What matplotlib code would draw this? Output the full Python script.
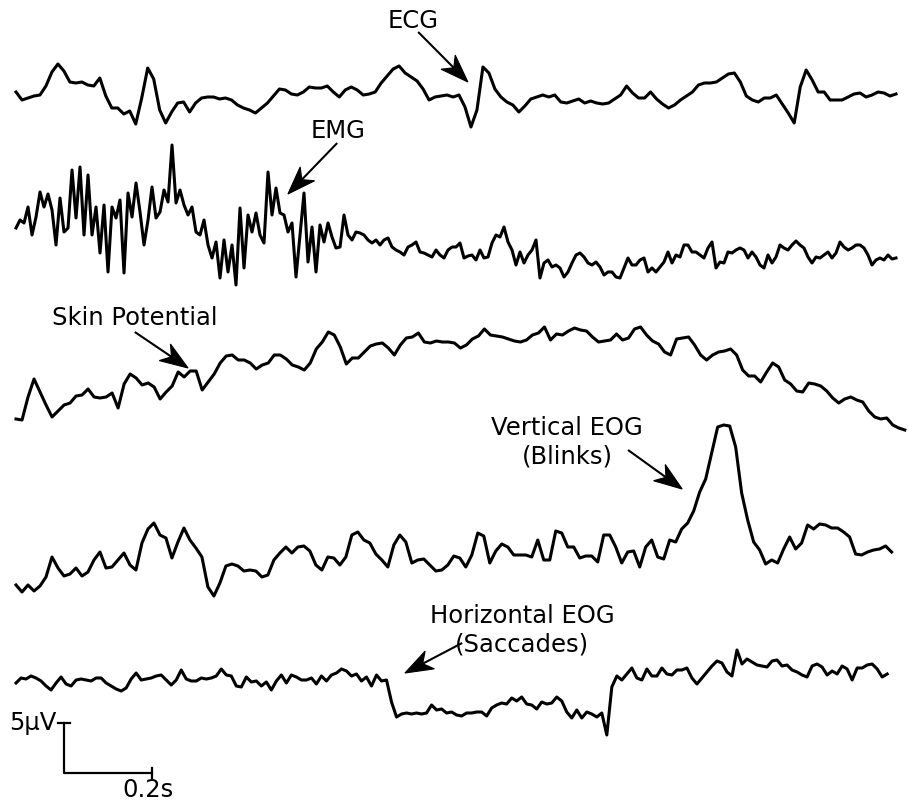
import numpy as np
import matplotlib
matplotlib.use("Agg")
from matplotlib import pyplot as plt
from matplotlib.patches import Polygon
from matplotlib.transforms import IdentityTransform

ecg = [0.5, -0.3, -0.1, 0.1, 0.2, 1.1, 2.5, 3.3, 2.6, 1.5,
       1.4, 1.5, 1.2, 1.1, 1.9, 0.1, -1.1, -1.1, -1.7, -1.4,
       -2.7, -0.1, 2.9, 1.8, -1.3, -2.6, -1.5, -0.6, -0.5, -1.5,
       -0.6, -0.1, 0.0, 0.0, -0.2, -0.1, -0.3, -0.8, -1.1, -1.3,
       -1.6, -1.1, -0.6, 0.1, 0.8, 0.7, 0.3, 0.2, 0.5, 1.0,
       0.9, 0.9, 1.1, 0.5, 0.0, 0.7, 1.0, 0.7, 0.2, 0.3,
       0.5, 1.4, 2.1, 2.8, 3.1, 2.4, 2.0, 1.6, 0.8, -0.3,
       0.0, 0.1, 0.2, 0.0, 0.2, -1.0, -3.0, -1.3, 3.0, 2.4,
       0.8, 0.0, -0.5, -0.8, -1.5, -0.9, -0.2, 0.0, 0.2, 0.0,
       0.2, -0.5, -0.6, -0.4, -0.2, -0.6, -0.4, -0.6, -0.7, -0.6,
       -0.2, 0.2, 1.1, 0.4, -0.1, -0.1, 0.5, -0.2, -0.7, -1.1,
       -0.8, -0.3, 0.1, 0.5, 1.2, 1.4, 1.4, 1.5, 1.9, 2.3,
       2.4, 1.5, 0.1, -0.3, -0.5, -0.1, -0.1, 0.2, -0.7, -1.6,
       -2.6, 1.0, 2.7, 1.7, 0.5, 0.5, -0.3, -0.3, -0.3, 0.0,
       0.3, 0.4, 0.0, 0.2, 0.5, 0.4, 0.1, 0.3]

emg = [0.2, 1.0, 0.7, 2.3, -0.5, 1.3, 3.8, 2.3, 3.6, 2.0,
       -1.5, 3.2, -0.2, 0.2, 6.0, 1.2, 6.3, -0.5, 5.5, -0.5,
       2.3, -2.3, 2.5, -4.2, 2.3, 1.2, 3.0, -4.3, 3.7, 1.3,
       4.7, 1.8, -1.5, 1.0, 4.3, 1.2, 1.8, 4.0, 2.8, 8.5,
       2.7, 4.0, 2.5, 1.5, 2.3, -0.2, -0.5, 1.0, -1.5, -2.8,
       -1.2, -4.8, -1.0, -4.2, -1.5, -5.5, 2.2, -3.8, 1.5, -0.2,
       1.7, -0.5, -1.3, 5.8, 1.5, 4.2, 1.7, 1.5, -0.2, 0.7,
       -4.7, -0.5, 3.7, -3.2, 0.3, -4.2, 0.5, -1.2, 0.7, -0.7,
       -1.8, -1.7, 1.5, -0.5, -1.0, -0.2, -0.3, -0.5, -1.0, -1.3,
       -1.0, -1.5, -1.0, -0.8, -1.7, -2.0, -2.2, -2.5, -1.7, -1.5,
       -1.2, -2.2, -2.3, -2.5, -2.7, -2.0, -2.5, -2.8, -2.0, -1.7,
       -1.7, -1.3, -2.8, -2.6, -2.5, -3.0, -2.0, -2.8, -2.7, -1.3,
       -0.5, -0.7, 0.3, -1.2, -2.0, -3.5, -2.2, -3.3, -2.5, -2.0,
       -1.0, -4.8, -3.3, -3.0, -3.7, -3.5, -3.8, -4.7, -4.2, -3.3,
       -2.5, -2.3, -2.7, -3.3, -3.5, -3.2, -3.7, -4.5, -4.2, -4.2,
       -4.7, -4.8, -3.8, -2.8, -3.5, -3.5, -3.0, -2.8, -4.2, -3.8,
       -4.2, -3.7, -3.2, -2.2, -3.3, -2.5, -2.7, -1.5, -1.5, -2.2,
       -2.2, -2.5, -2.8, -1.8, -1.2, -3.8, -3.2, -3.3, -2.2, -2.3,
       -2.0, -1.8, -2.0, -2.8, -2.2, -2.7, -3.5, -3.8, -2.5, -3.3,
       -2.7, -1.5, -1.8, -2.0, -1.5, -1.1, -1.5, -1.8, -2.7, -3.3,
       -2.7, -2.8, -2.5, -2.2, -2.8, -2.3, -1.2, -1.7, -2.0, -1.8,
       -1.5, -1.5, -1.8, -2.5, -3.5, -3.0, -2.8, -3.0, -2.5, -2.9,
       -2.8]

skin = [-3.9, -4.0, -1.7, 0.1, -1.2, -2.5, -3.7, -3.1, -2.5, -2.3,
        -1.6, -1.5, -0.9, -1.7, -1.8, -1.7, -1.3, -2.8, -0.4, 0.6,
        0.2, -0.5, -0.3, -0.7, -1.9, -1.2, -0.6, 0.8, 0.3, 0.9,
        0.9, -1.0, -0.2, 0.6, 1.7, 2.4, 2.5, 2.0, 2.0, 1.7,
        1.1, 1.5, 1.7, 2.5, 2.5, 2.1, 1.5, 1.3, 1.0, 1.7,
        3.1, 3.8, 4.8, 4.5, 3.3, 1.6, 2.2, 2.2, 2.8, 3.4,
        3.6, 3.7, 3.2, 2.5, 3.5, 4.2, 4.3, 4.7, 3.8, 3.7,
        3.9, 3.8, 3.8, 3.7, 3.2, 3.5, 4.1, 4.4, 5.1, 4.5,
        4.4, 4.3, 4.1, 3.9, 3.8, 4.0, 4.5, 4.7, 5.3, 4.0,
        4.6, 4.5, 4.9, 5.2, 5.0, 4.9, 4.3, 3.8, 3.9, 4.0,
        4.6, 4.0, 4.2, 5.1, 5.3, 4.5, 3.9, 3.6, 2.8, 2.5,
        4.1, 4.2, 4.3, 3.5, 2.5, 2.0, 2.5, 2.8, 2.9, 3.1,
        2.5, 1.0, 0.4, 0.4, -0.2, 0.8, 1.7, 1.3, 0.0, -0.4,
        -1.1, -1.2, -0.3, -0.4, -0.6, -1.1, -1.8, -2.3, -1.9, -1.7,
        -2.0, -2.2, -3.1, -3.7, -3.9, -3.8, -4.5, -4.8, -5.0]

veog = [-2.5, -3.2, -2.5, -3.1, -2.6, -1.7, 0.3, -0.8, -1.6, -1.4,
        -0.8, -1.6, -1.2, 0.0, 0.8, -0.8, -0.7, 0.0, 0.7, -0.5,
        -1.0, 1.7, 3.1, 3.7, 2.5, 2.2, 0.2, 1.8, 3.2, 2.0,
        1.2, 0.3, -2.7, -3.6, -2.3, -0.6, -0.4, -0.6, -1.1, -1.0,
        -1.1, -1.7, -1.5, 0.0, 0.7, 1.3, 0.7, 1.3, 1.4, 0.9,
        -0.5, -1.0, 0.3, 0.2, -0.5, 0.3, 2.5, 2.8, 2.0, 1.7,
        0.6, 0.0, -0.7, 1.5, 2.5, 1.8, -0.3, 0.0, 0.1, -0.5,
        -1.1, -1.0, -0.5, 0.4, 0.2, -0.7, 0.5, 2.7, 2.4, -0.3,
        0.9, 1.6, 1.3, 0.5, 0.5, 0.5, 0.3, 2.0, 0.0, 0.0,
        2.9, 2.7, 1.3, 1.3, 0.2, 0.4, 0.4, -0.2, 2.5, 2.5,
        1.3, -0.3, 0.8, 0.9, -0.7, 1.3, 2.0, 0.3, 0.1, 2.0,
        1.8, 3.1, 3.7, 4.9, 6.8, 8.1, 10.7, 13.3, 13.5, 13.4,
        11.3, 6.7, 4.0, 1.8, 1.0, -0.4, 0.0, -0.3, 1.1, 2.3,
        1.1, 1.7, 3.5, 3.1, 3.6, 3.5, 3.2, 3.2, 2.8, 2.3,
        0.6, 0.5, 0.8, 1.0, 1.1, 1.4, 0.8]

heog = [-0.3, 0.2, 0.1, 0.4, 0.2, -0.1, -0.6, -1.0, -0.3, 0.3,
        -0.4, -0.6, 0.0, 0.1, 0.0, -0.1, 0.2, 0.2, -0.3, -0.6,
        -0.9, -1.1, -0.8, 0.1, 0.7, 0.0, 0.1, 0.2, 0.4, 0.5,
        0.0, -0.5, 0.0, 1.0, 0.1, -0.1, -0.1, 0.2, 0.1, 0.2,
        0.4, 1.1, 0.5, 0.4, -0.6, -0.7, 0.3, -0.2, -0.1, -0.6,
        -0.2, -1.0, -0.1, 0.5, -0.3, 0.5, 0.3, 0.0, 0.0, 0.2,
        -0.4, 0.4, -0.1, 0.5, 0.7, 1.1, 0.9, 0.4, 0.6, -0.1,
        0.3, -0.6, 0.5, -0.1, 0.0, -2.2, -3.7, -3.4, -3.3, -3.4,
        -3.3, -3.4, -3.3, -2.5, -3.0, -2.9, -3.3, -3.2, -3.5, -3.6,
        -3.3, -3.3, -3.2, -3.2, -3.6, -2.8, -2.5, -2.3, -2.4, -1.8,
        -2.1, -1.7, -2.4, -2.5, -2.9, -2.2, -2.4, -2.3, -1.7, -2.1,
        -3.2, -3.8, -3.0, -3.8, -3.2, -3.4, -3.7, -3.3, -5.5, -0.7,
        0.4, 0.0, 0.6, 1.2, 0.2, 0.0, 1.1, 0.4, 0.4, 1.2,
        0.6, 0.5, 1.0, 1.0, 1.2, 0.2, -0.4, 0.2, 0.8, 1.4,
        1.9, 1.7, 0.8, 0.4, 3.0, 1.6, 2.1, 1.8, 1.5, 1.4,
        1.3, 1.9, 2.0, 1.4, 1.5, 1.0, 0.8, 0.5, 0.3, 1.4,
        1.6, 1.3, 0.5, 0.9, 0.6, 1.4, 1.1, 0.0, 1.2, 1.2,
        1.5, 1.6, 1.1, 0.3, 0.6]

signals = [ecg, emg, skin, veog, heog]
durations = [2.0, 2.0, 2.02, 1.99, 1.98]      # seconds
labels = ["ECG", "EMG", "Skin Potential",
          "Vertical EOG\n(Blinks)", "Horizontal EOG\n(Saccades)"]

# layout (µV from top, seconds)
offsets = [9.7, 23.0, 38.0, 56.0, 68.0]
label_xy = [(0.902, -2.1), (0.732, -13.1), (0.270, -31.8),
            (1.252, -44.2), (1.150, -63.0)]
arrow_tail = [(0.914, -3.2), (0.730, -14.3), (0.270, -33.2),
              (1.391, -45.0), (1.014, -64.3)]
arrow_tip = [(1.027, -8.2), (0.618, -19.4), (0.391, -36.8),
             (1.514, -48.9), (0.884, -67.3)]


def stealth_arrow(ax, tail, tip, length=28, half_w=10, notch=8):
    # drawn in pixel space so the head keeps its shape
    p0 = ax.transData.transform(tail)
    p1 = ax.transData.transform(tip)
    u = (p1 - p0) / np.hypot(*(p1 - p0))
    n = np.array([-u[1], u[0]])
    base = p1 - (length - notch) * u
    ax.plot(*ax.transData.inverted().transform([p0, base]).T,
            color="black", lw=1.5, solid_capstyle="butt")
    head = [p1, p1 - length * u + half_w * n, base, p1 - length * u - half_w * n]
    ax.add_patch(Polygon(head, closed=True, facecolor="black",
                         edgecolor="black", lw=0.8,
                         transform=IdentityTransform()))


fig = plt.figure(figsize=(9.08, 8.02), dpi=100)
ax = fig.add_axes([0, 0, 1, 1])
ax.set_xlim(-0.0364, 2.0273)
ax.set_ylim(-80.2, 0)
ax.axis("off")

for sig, dur, off in zip(signals, durations, offsets):
    t = np.linspace(0, dur, len(sig))
    ax.plot(t, np.array(sig) - off, color="black", lw=2.2,
            solid_joinstyle="round")

for lab, xy, tail, tip in zip(labels, label_xy, arrow_tail, arrow_tip):
    ax.text(xy[0], xy[1], lab, ha="center", va="center", fontsize=17.5,
            linespacing=1.25)
    stealth_arrow(ax, tail, tip)

# scale bar: 5 µV by 0.2 s
x0, y0 = 0.109, -77.3
ax.plot([x0, x0, x0 + 0.2], [y0 + 5, y0, y0], color="black", lw=1.6)
ax.plot([x0 - 0.014, x0 + 0.014], [y0 + 5, y0 + 5], color="black", lw=1.6)
ax.plot([x0 + 0.2, x0 + 0.2], [y0 - 0.5, y0 + 0.5], color="black", lw=1.6)
ax.text(x0 - 0.016, y0 + 4.3, "5µV", ha="right", va="baseline", fontsize=17.5)
ax.text(x0 + 0.19, -79.7, "0.2s", ha="center", va="baseline", fontsize=17.5)

fig.savefig("out.png", dpi=100)
